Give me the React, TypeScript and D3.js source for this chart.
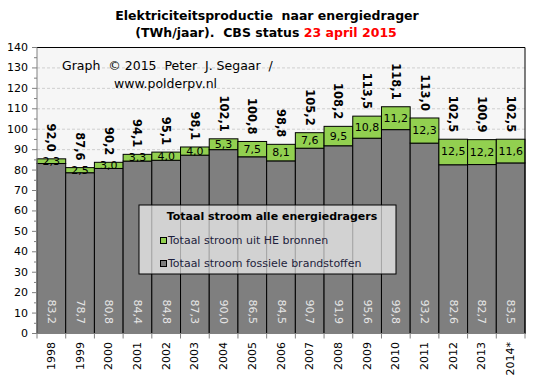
import React from "react";
import * as d3 from "d3";

const years = ["1998","1999","2000","2001","2002","2003","2004","2005","2006","2007","2008","2009","2010","2011","2012","2013","2014*"];
const fossil = [83.2,78.7,80.8,84.4,84.8,87.3,90.0,86.5,84.5,90.7,91.9,95.6,99.8,93.2,82.6,82.7,83.5];
const renewable = [2.3,2.5,3.0,3.3,4.0,4.0,5.3,7.5,8.1,7.6,9.5,10.8,11.2,12.3,12.5,12.2,11.6];
const totals = [92.0,87.6,90.2,94.1,95.1,98.1,102.1,100.8,98.8,105.2,108.2,113.5,118.1,113.0,102.5,100.9,102.5];
const yTicks = [0,10,20,30,40,50,60,70,80,90,100,110,120,130,140];
const minorTicks = [5,15,25,35,45,55,65,75,85,95,105,115,125,135];

const W = 537, H = 382;
const L = 37, R = 525, T = 47.5, B = 333.5;
const FONT = "'DejaVu Sans', Verdana, sans-serif";
const fmt = (v: number) => v.toFixed(1).replace(".", ",");

export default function App() {
  const x = d3.scaleBand<string>().domain(years).range([L, R]).padding(0);
  const y = d3.scaleLinear().domain([0, 140]).range([B, T]);
  const bw = x.bandwidth();

  return (
    <svg width={W} height={H} style={{ position: "absolute", left: 0, top: 0, background: "#fff" }} fontFamily={FONT}>
      <rect x={0} y={0} width={W} height={H} fill="#fff" />
      {/* title */}
      <text x={267} y={20} textAnchor="middle" fontSize={12.5} fontWeight="bold" fill="#000" style={{ whiteSpace: "pre" }}>
        {"Elektriciteitsproductie  naar energiedrager"}
      </text>
      <text x={266} y={37} textAnchor="middle" fontSize={12.5} fontWeight="bold" fill="#000" style={{ whiteSpace: "pre" }}>
        {"(TWh/jaar).  CBS status "}<tspan fill="#ff0000">{"23 april 2015"}</tspan>
      </text>

      {/* plot background */}
      <rect x={L} y={T} width={R - L} height={B - T} fill="#f6f6f6" />
      {yTicks.filter(t => t > 0 && t < 140).map(t => (
        <line key={"g" + t} x1={L} x2={R} y1={y(t)} y2={y(t)} stroke="#cfcfcf" strokeDasharray="3,2" strokeWidth={1} />
      ))}

      {/* watermark */}
      <text x={62} y={70} fontSize={12.5} fill="#000" style={{ whiteSpace: "pre" }}>{"Graph  \u00a9 2015  Peter  J. Segaar  /"}</text>
      <text x={114} y={88} fontSize={12.5} fill="#000">www.polderpv.nl</text>

      {/* bars */}
      {years.map((yr, i) => {
        const x0 = x(yr)!;
        const f = fossil[i], r = renewable[i];
        return (
          <g key={yr}>
            <rect x={x0} y={y(f)} width={bw} height={B - y(f)} fill="#7f7f7f" stroke="#000" strokeWidth={1} />
            <rect x={x0} y={y(f + r)} width={bw} height={y(f) - y(f + r)} fill="#92d050" stroke="#000" strokeWidth={1} />
          </g>
        );
      })}

      {/* labels */}
      {years.map((yr, i) => {
        const cx = x(yr)! + bw / 2;
        const f = fossil[i], r = renewable[i];
        const topY = y(f + r) - 7;
        const heY = (y(f) + y(f + r)) / 2;
        return (
          <g key={"l" + yr}>
            <text transform={`translate(${cx},${topY}) rotate(90)`} textAnchor="end" dominantBaseline="central" fontSize={11.5} fontWeight="bold" fill="#000">{fmt(totals[i])}</text>
            <text x={cx} y={heY} textAnchor="middle" dominantBaseline="central" fontSize={11} fill="#000">{fmt(r)}</text>
            <text transform={`translate(${cx},${324}) rotate(90)`} textAnchor="end" dominantBaseline="central" fontSize={11} fill="#e6e6e6">{fmt(f)}</text>
          </g>
        );
      })}

      {/* frame */}
      <line x1={L} x2={R} y1={T} y2={T} stroke="#000" />
      <line x1={R} x2={R} y1={T} y2={B} stroke="#000" />

      {/* y axis */}
      <line x1={L} x2={L} y1={T} y2={B} stroke="#808080" />
      {yTicks.map(t => (
        <g key={"yt" + t}>
          <line x1={L - 5} x2={L} y1={y(t)} y2={y(t)} stroke="#808080" />
          <text x={28} y={y(t)} textAnchor="end" dominantBaseline="central" fontSize={11} fill="#000">{t}</text>
        </g>
      ))}
      {minorTicks.map(t => (
        <line key={"mt" + t} x1={L - 3} x2={L} y1={y(t)} y2={y(t)} stroke="#808080" />
      ))}

      {/* x axis */}
      <line x1={L} x2={R} y1={B} y2={B} stroke="#808080" />
      {years.map(yr => (
        <line key={"xt" + yr} x1={x(yr)!} x2={x(yr)!} y1={B} y2={B + 5} stroke="#808080" />
      ))}
      <line x1={R} x2={R} y1={B} y2={B + 5} stroke="#808080" />
      {years.map(yr => (
        <text key={"xl" + yr} transform={`translate(${x(yr)! + bw / 2},${342}) rotate(-90)`} textAnchor="end" dominantBaseline="central" fontSize={11} fill="#000">{yr}</text>
      ))}

      {/* legend */}
      <rect x={139} y={205} width={257} height={69} fill="#ffffff" fillOpacity={0.65} stroke="#000" strokeWidth={1} />
      <text x={272} y={216} textAnchor="middle" dominantBaseline="central" fontSize={11} fontWeight="bold" fill="#000">Totaal stroom alle energiedragers</text>
      <rect x={160.5} y={237.5} width={6} height={6} fill="#92d050" stroke="#000" />
      <text x={168} y={240.5} dominantBaseline="central" fontSize={11} fill="#1e1e3c">Totaal stroom uit HE bronnen</text>
      <rect x={160.5} y={260.5} width={6} height={6} fill="#7f7f7f" stroke="#000" />
      <text x={168} y={263.5} dominantBaseline="central" fontSize={11} fill="#1e1e3c">Totaal stroom fossiele brandstoffen</text>
    </svg>
  );
}
